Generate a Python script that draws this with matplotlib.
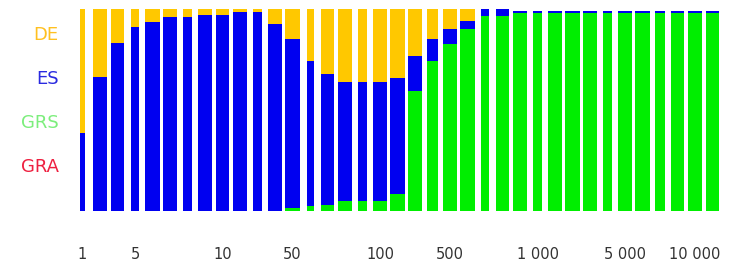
import matplotlib.pyplot as plt
import numpy as np

# share of each type per size class, from bottom to top: GRA, GRS, ES, DE
gra = [0.0] * 37
grs = [0, 0, 0, 0, 0, 0, 0, 0, 0, 0, 0, 0,
       0.014, 0.024, 0.032, 0.047, 0.047, 0.047, 0.082, 0.596, 0.744, 0.827,
       0.901, 0.967, 0.967,
       0.982, 0.982, 0.982, 0.982, 0.982, 0.982, 0.982, 0.982, 0.982, 0.982, 0.982, 0.982]
es = [0.388, 0.662, 0.830, 0.909, 0.934, 0.959, 0.959, 0.969, 0.969, 0.984, 0.984, 0.926,
      0.837, 0.720, 0.646, 0.590, 0.590, 0.590, 0.578, 0.172, 0.107, 0.074,
      0.041, 0.033, 0.033,
      0.009, 0.009, 0.009, 0.009, 0.009, 0.009, 0.009, 0.009, 0.009, 0.009, 0.009, 0.009]
de = [0.612, 0.338, 0.170, 0.091, 0.066, 0.041, 0.041, 0.031, 0.031, 0.016, 0.016, 0.074,
      0.149, 0.256, 0.322, 0.363, 0.363, 0.363, 0.340, 0.232, 0.149, 0.099,
      0.058, 0.0, 0.0,
      0, 0, 0, 0, 0, 0, 0, 0, 0, 0, 0, 0]

tick_idx = [0, 3, 8, 12, 17, 21, 26, 31, 35]
tick_labels = ["1", "5", "10", "50", "100", "500", "1 000", "5 000", "10 000"]

series = ["GRA", "GRS", "ES", "DE"]
colors = {"GRA": "#ff0000", "GRS": "#00ee00", "ES": "#0000f0", "DE": "#ffc800"}
label_colors = {"GRA": "#ee2040", "GRS": "#7cee7c", "ES": "#2a2ae0", "DE": "#ffc020"}

# bar widths vary in the original rendering
widths = [.34, .78, .78, .5, .85, .85, .5, .82, .78, .78, .5, .78, .85, .4, .78, .85, .5,
          .85, .85, .85, .6, .78, .85, .45, .78, .78, .5, .85, .82, .82, .55, .85, .85,
          .55, .78, .82, .78]

fig = plt.figure(figsize=(7.33, 2.61), dpi=100)
ax = fig.add_axes([0.1006, 0.1916, 0.8834, 0.774])

x = np.arange(len(es))
bottom = np.zeros(len(es))
for name, vals in zip(series, [gra, grs, es, de]):
    vals = np.array(vals)
    ax.bar(x, vals, width=widths, bottom=bottom, color=colors[name], linewidth=0)
    bottom += vals

ax.set_xlim(-0.5, len(es) - 0.5)
ax.set_ylim(0, 1)
for s in ax.spines.values():
    s.set_visible(False)
ax.set_yticks([])
ax.set_xticks(tick_idx)
ax.set_xticklabels(tick_labels, fontsize=10.5, color="#333333")
ax.tick_params(axis="x", length=0, pad=26)

for k, name in enumerate(series):
    ax.text(-0.023, 0.218 * (k + 1), name, transform=ax.transAxes, ha="right",
            va="center", fontsize=13, color=label_colors[name])

fig.savefig("out.png", dpi=100)
